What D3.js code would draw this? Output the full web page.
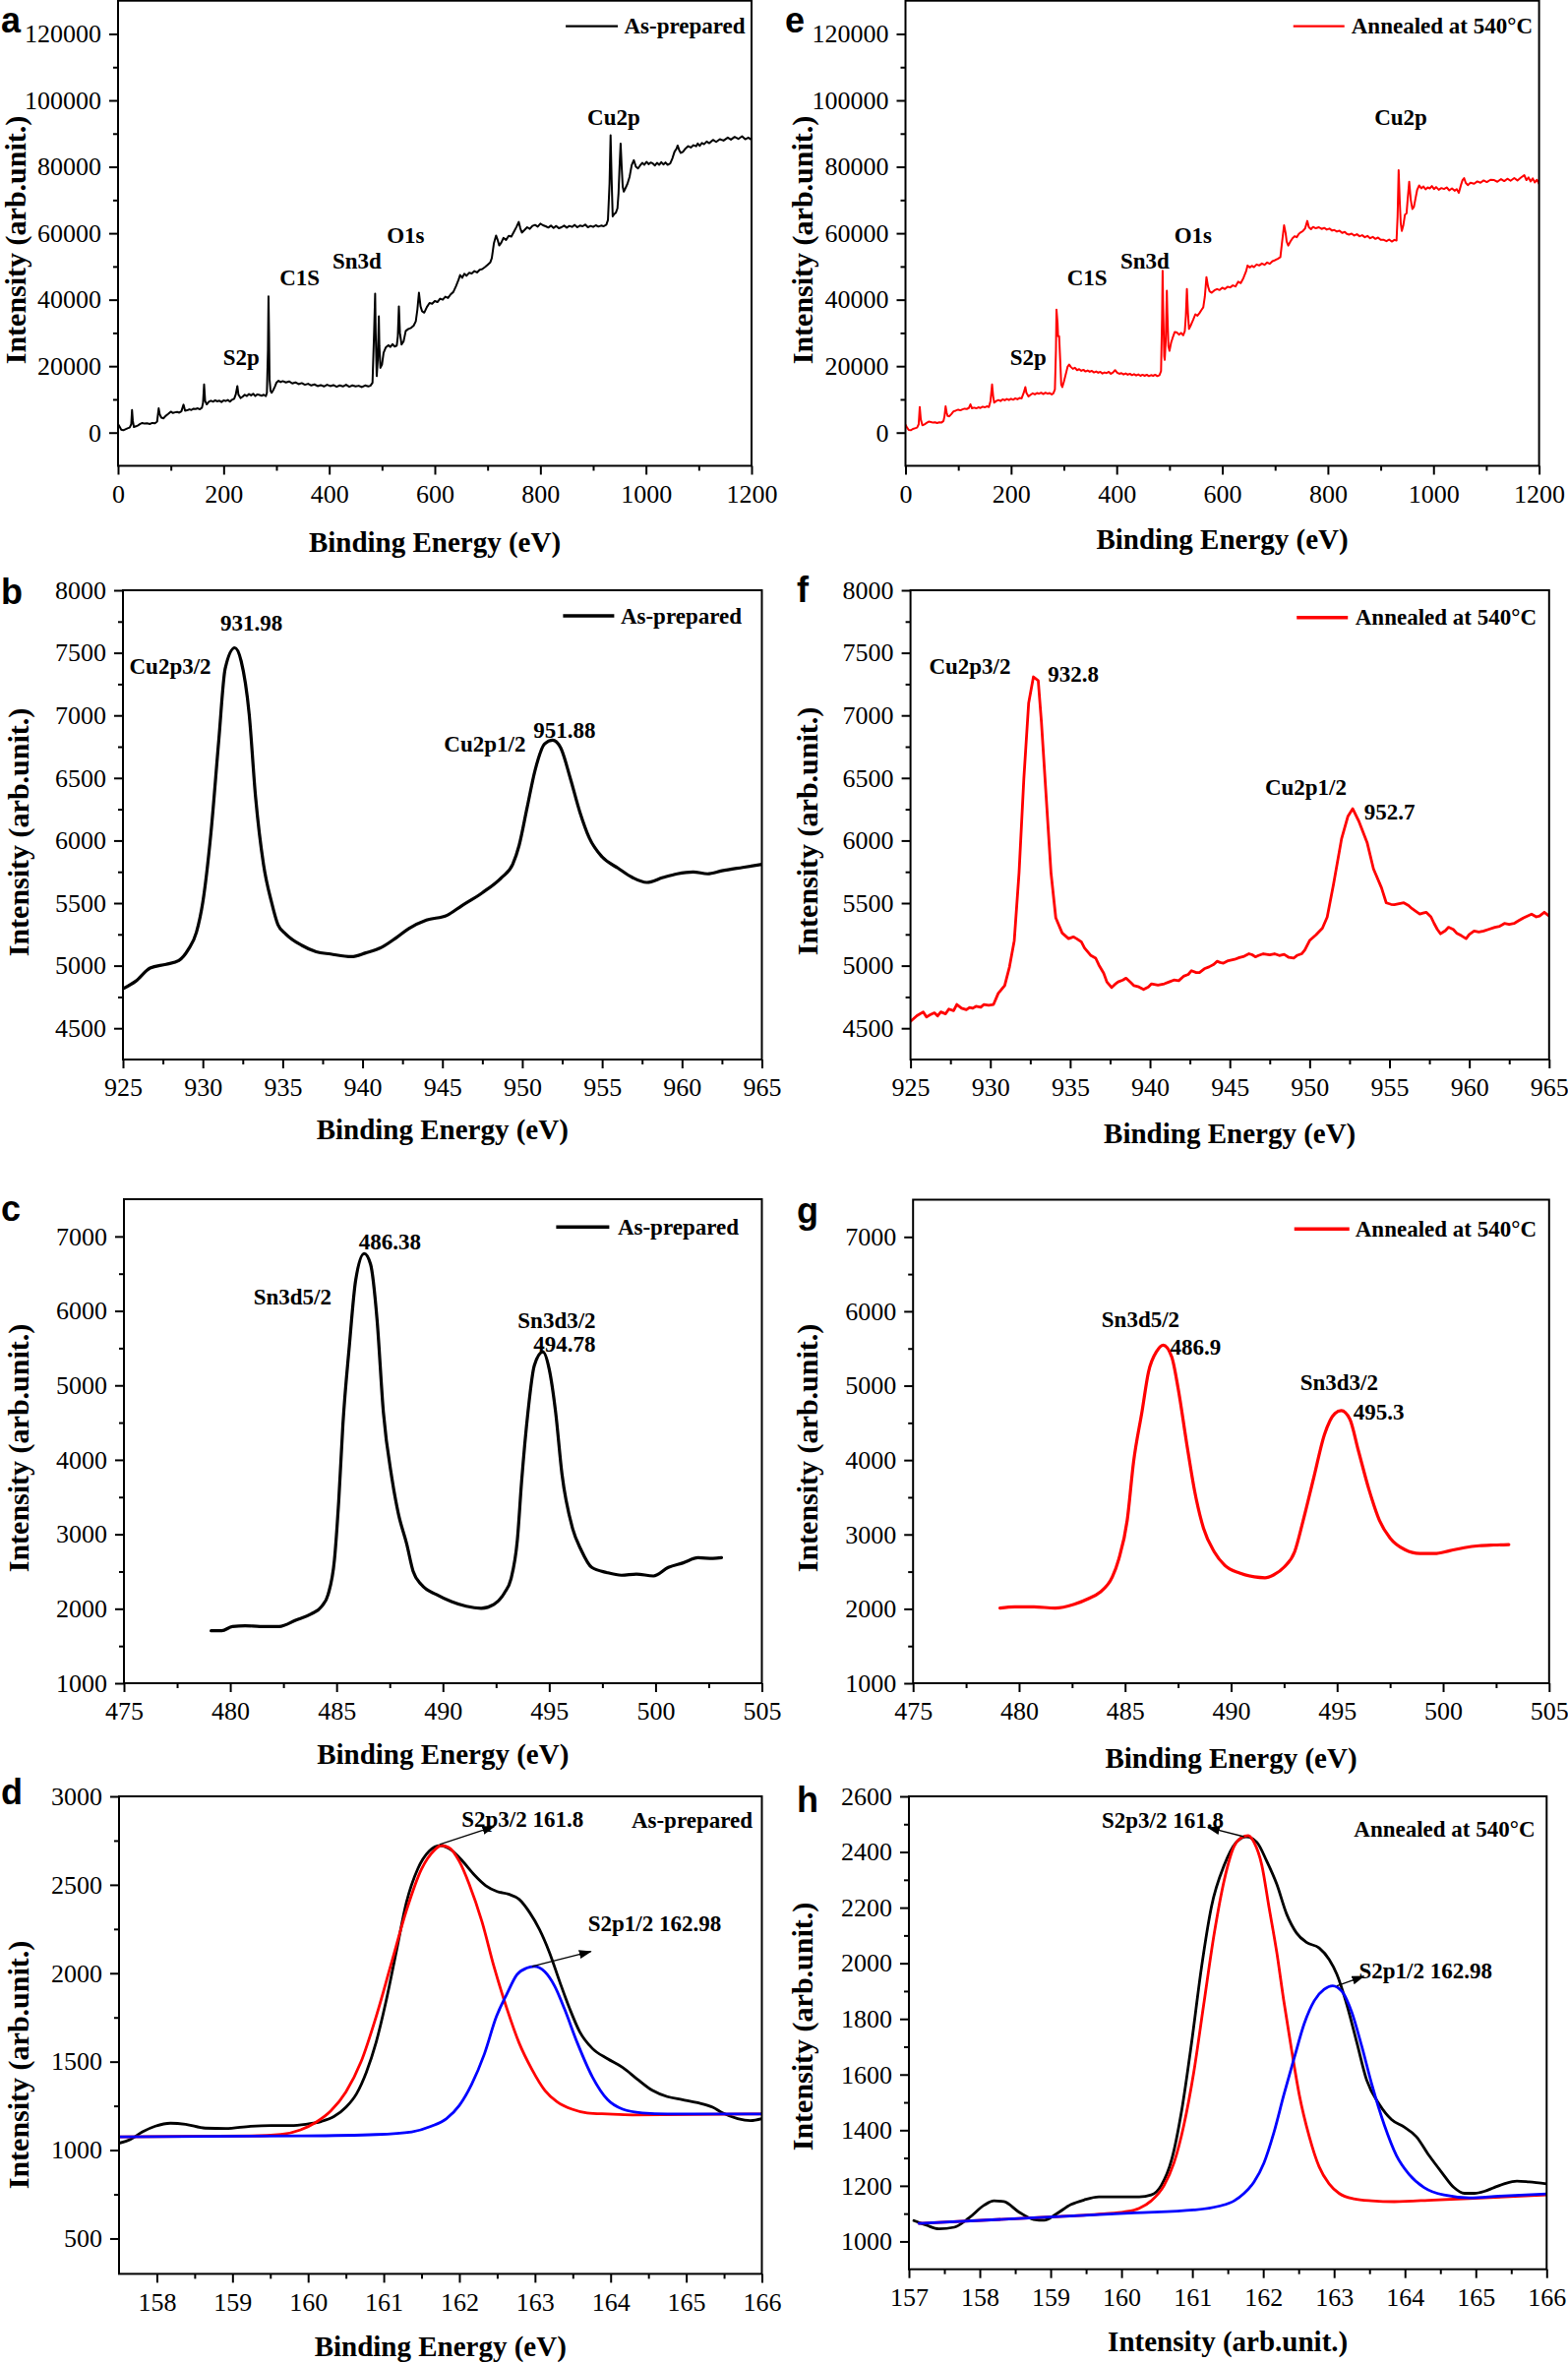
<!DOCTYPE html>
<html><head><meta charset="utf-8">
<script src="https://cdnjs.cloudflare.com/ajax/libs/d3/7.8.5/d3.min.js"></script>
<style>body{margin:0;background:#fff}</style>
</head><body>
<svg id="fig" width="1594" height="2402" xmlns="http://www.w3.org/2000/svg"></svg>
<script>
// ---------------- DATA ----------------
const surveyAsPrepared = [[0,2600],[3,1800],[6,900],[10,700],[14,1000],[18,1300],[22,1500],[25,2500],[26.5,6800],[28,3500],[30,1700],[34,1900],[38,2200],[42,2600],[46,2900],[50,2700],[55,2800],[60,2600],[65,2900],[70,2800],[74,3300],[77,7300],[79,5500],[82,4500],[86,4300],[90,5000],[95,5600],[100,6300],[104,5900],[108,6100],[112,6200],[116,6000],[120,6400],[124,8400],[127,6600],[131,6700],[135,7000],[139,6800],[143,7200],[147,7100],[151,7300],[155,7000],[159,7500],[161,9000],[163,14500],[165,9500],[168,8500],[172,9300],[176,9600],[180,9300],[184,9700],[188,9400],[192,9600],[196,9200],[200,9700],[204,9500],[208,9800],[212,9300],[216,9900],[220,10200],[223,11500],[226,14000],[228,11500],[232,10400],[236,10800],[240,11400],[244,11000],[248,11600],[252,11200],[256,11700],[260,11000],[264,11500],[268,11300],[272,11100],[276,11400],[280,11000],[282,12000],[284,25000],[285,41000],[286,30000],[287,16000],[289,12500],[291,12000],[294,12800],[297,13800],[300,15000],[304,15600],[308,15200],[312,15500],[318,15100],[324,15400],[330,14800],[336,15100],[342,14600],[348,14900],[354,14400],[360,14700],[366,14200],[372,14500],[378,14000],[384,14300],[390,13900],[396,14400],[402,14000],[408,14300],[414,13800],[420,14200],[426,13900],[432,14400],[438,13800],[444,14200],[450,13900],[456,14100],[462,13700],[468,14200],[474,13900],[478,14100],[482,15000],[485,30000],[487,41800],[488,30000],[490,17000],[492,22000],[494,35000],[495,26000],[497,19500],[500,20500],[503,24000],[507,25600],[512,26300],[516,25800],[520,26600],[524,25900],[528,26200],[530,29000],[532,38000],[534,30000],[537,26500],[541,27500],[545,30600],[550,31200],[555,31500],[560,32200],[564,33500],[567,37000],[570,42100],[573,38000],[576,36500],[580,36100],[585,37800],[590,39000],[595,38800],[600,39600],[605,39300],[610,40300],[615,40000],[620,40900],[625,40500],[630,41600],[635,42300],[640,44000],[645,46000],[648,47400],[652,46600],[656,47800],[660,47200],[665,48100],[670,47900],[675,48600],[680,48200],[685,49000],[690,49200],[695,49800],[700,50500],[705,51200],[708,52500],[712,57000],[716,59300],[719,58000],[722,56300],[726,57200],[730,58600],[735,58000],[740,59200],[745,59000],[750,60500],[755,62000],[759,63400],[762,61500],[765,60200],[770,61000],[775,61800],[780,61300],[785,62200],[790,62500],[795,62000],[800,62900],[805,62400],[810,62100],[815,61700],[820,62300],[825,61600],[830,62200],[835,61500],[840,61800],[845,62300],[850,61700],[855,62200],[860,61900],[865,62500],[870,61800],[875,62300],[880,62100],[885,62600],[890,61800],[895,62200],[900,61900],[905,62400],[910,62000],[915,62300],[920,62100],[925,62600],[928,64000],[931,75000],[933,89500],[935,76000],[937,65100],[940,65800],[943,66200],[946,67500],[948,72000],[950,80000],[952,87000],[954,80000],[956,74000],[958,72500],[961,73500],[965,74900],[969,77000],[973,80500],[977,82000],[981,80000],[985,79500],[989,80400],[993,81200],[997,80600],[1001,81500],[1005,80800],[1009,81300],[1013,81000],[1017,80400],[1021,81200],[1025,80600],[1029,81400],[1033,80700],[1037,81300],[1041,80600],[1046,81000],[1050,82500],[1054,84500],[1058,85500],[1060,86400],[1063,85000],[1066,84200],[1070,84500],[1075,85500],[1080,86200],[1085,85800],[1090,86500],[1095,86200],[1098,87000],[1102,86300],[1106,87200],[1110,86800],[1115,87600],[1120,87100],[1127,88100],[1133,87500],[1140,88300],[1147,87900],[1155,88800],[1161,88200],[1168,89000],[1175,88400],[1182,89200],[1188,88300],[1194,88800],[1200,88100]];

const surveyAnnealed = [[0,2400],[3,1500],[6,800],[10,700],[14,1100],[18,1300],[22,1500],[25,2500],[27,7700],[29,4000],[32,2200],[36,2500],[40,2900],[44,3300],[48,3200],[52,3000],[56,3100],[60,2900],[64,3100],[68,3000],[72,3500],[74,5000],[76,7900],[78,6000],[80,5000],[83,4900],[87,5600],[91,6400],[95,6600],[100,6900],[104,6700],[108,7000],[112,7200],[116,7100],[120,7400],[123,8500],[126,7300],[130,7500],[134,7300],[138,7600],[142,7400],[146,7800],[150,7600],[154,7900],[158,7700],[161,9500],[164,14500],[166,11000],[168,9000],[172,9500],[176,9800],[180,9500],[184,10000],[188,9700],[192,10100],[196,9800],[200,10200],[204,9900],[208,10300],[212,10000],[216,10400],[220,10300],[224,12000],[227,13700],[229,12000],[233,10900],[237,11400],[241,11800],[245,11500],[249,11900],[253,11700],[257,12000],[261,11600],[265,12000],[269,11700],[273,11900],[277,11500],[280,11800],[283,13000],[285,25000],[286,37000],[288,33000],[289,29000],[291,29000],[293,22000],[295,14500],[297,13700],[300,15300],[304,17800],[307,19800],[310,20500],[313,19800],[317,19200],[321,19500],[325,18800],[329,19100],[333,18600],[337,18900],[341,18400],[345,18700],[349,18300],[353,18600],[357,18100],[361,18400],[365,18000],[369,18300],[373,17800],[377,18100],[381,17900],[385,18300],[389,17700],[393,18100],[397,18800],[401,18000],[405,17700],[409,17900],[413,17500],[417,17800],[421,17400],[425,17700],[429,17300],[433,17600],[437,17200],[441,17500],[445,17100],[449,17400],[453,17100],[457,17400],[461,17000],[465,17300],[469,17100],[473,17400],[477,17000],[481,17300],[484,18500],[486,35000],[487,48700],[488,38000],[490,23000],[491,21900],[493,28000],[495,42700],[496,36000],[498,26000],[500,24600],[503,27000],[507,29000],[510,30300],[514,30100],[518,29500],[522,30000],[526,29300],[529,30500],[531,35000],[533,43200],[535,36000],[537,31200],[541,32500],[545,34000],[549,35600],[553,35200],[557,36000],[561,37000],[564,37700],[567,41000],[570,46800],[573,44000],[576,42500],[580,42100],[585,42800],[590,43200],[595,42900],[600,43600],[605,43200],[610,43900],[615,43700],[620,44300],[625,44000],[630,45400],[635,45000],[640,46500],[645,48500],[648,50300],[652,49700],[656,50200],[660,49800],[665,50600],[670,50300],[675,50900],[680,50500],[685,51200],[690,50800],[695,51600],[700,51900],[705,52300],[710,52800],[713,57000],[717,62400],[720,60000],[722,57500],[725,56300],[729,57500],[733,58500],[737,59100],[741,58800],[745,59800],[749,60300],[753,60700],[757,61500],[761,63700],[764,61800],[768,61200],[772,61900],[777,61500],[783,61800],[788,61300],[793,61600],[798,61100],[803,61400],[808,60800],[812,61000],[817,60500],[822,60800],[827,60100],[832,60400],[836,59800],[840,59600],[845,59900],[850,59300],[855,59700],[860,59100],[865,59400],[870,58800],[875,59200],[880,58500],[885,58900],[890,58300],[895,58700],[900,58000],[906,58000],[911,57600],[916,58100],[921,57500],[926,58000],[930,57800],[932,65000],[934,79000],[936,70000],[938,63000],[940,60700],[943,62500],[946,65600],[949,66000],[951,70000],[954,75500],[957,70000],[960,67300],[963,68000],[966,70500],[969,73000],[973,74400],[977,73500],[981,74100],[985,73200],[989,73800],[993,73500],[997,74200],[1001,73300],[1005,73900],[1010,73100],[1015,73600],[1020,73300],[1025,73800],[1030,72900],[1035,73500],[1040,72800],[1044,73300],[1048,72200],[1052,74500],[1055,76000],[1058,76600],[1061,75200],[1065,74500],[1070,75200],[1077,74900],[1083,75600],[1089,75200],[1095,75900],[1101,75400],[1108,76100],[1115,76000],[1121,75500],[1128,76300],[1134,75700],[1140,76400],[1146,75800],[1153,76600],[1159,75900],[1165,76700],[1172,77500],[1176,76000],[1180,76800],[1184,75600],[1188,76500],[1192,75300],[1196,76100],[1200,74900]];

const cu2pAsPrepared = [[925,4816],[925.8,4876],[926.7,4981],[927.7,5011],[928.5,5042],[929.1,5132],[929.6,5267],[930.0,5508],[930.5,6050],[931.0,6802],[931.4,7374],[932.0,7540],[932.4,7434],[932.9,7013],[933.3,6351],[933.8,5809],[934.3,5508],[934.7,5328],[935.2,5252],[936.2,5162],[937.1,5111],[938.0,5093],[939.3,5072],[940.2,5102],[941.2,5147],[942.1,5222],[942.9,5297],[944.0,5364],[945.3,5403],[946.2,5478],[947.5,5583],[948.7,5704],[949.4,5809],[949.8,5960],[950.3,6261],[950.8,6561],[951.4,6772],[951.9,6802],[952.4,6742],[953.0,6501],[953.6,6230],[954.2,6020],[955.0,5869],[956.0,5779],[956.9,5704],[957.8,5665],[958.8,5704],[959.7,5734],[960.7,5749],[961.6,5734],[962.5,5758],[963.8,5785],[965,5809]];

const cu2pAnnealed = [[925,4554],[925.4,4600],[925.8,4630],[926.0,4590],[926.2,4605],[926.5,4623],[926.7,4598],[926.9,4630],[927.2,4615],[927.4,4653],[927.7,4640],[927.9,4690],[928.2,4660],[928.5,4648],[928.7,4666],[928.9,4660],[929.1,4675],[929.4,4668],[929.6,4690],[929.9,4684],[930.2,4690],[930.5,4780],[930.9,4840],[931.2,4990],[931.5,5200],[931.8,5743],[932.1,6495],[932.4,7097],[932.7,7308],[933.0,7278],[933.2,6947],[933.5,6345],[933.8,5743],[934.1,5382],[934.5,5261],[934.9,5216],[935.2,5230],[935.4,5216],[935.7,5190],[935.9,5141],[936.3,5081],[936.6,5060],[936.8,5005],[937.1,4940],[937.3,4870],[937.6,4825],[937.8,4850],[938.0,4870],[938.3,4885],[938.5,4900],[938.8,4865],[939.0,4840],[939.3,4830],[939.6,4810],[939.9,4830],[940.1,4855],[940.5,4845],[940.9,4855],[941.2,4870],[941.5,4885],[941.8,4880],[942.1,4915],[942.4,4930],[942.6,4960],[942.9,4945],[943.1,4945],[943.4,4975],[943.7,4990],[944.0,5010],[944.2,5035],[944.4,5025],[944.6,5020],[944.9,5040],[945.3,5050],[945.6,5065],[945.9,5075],[946.2,5095],[946.4,5087],[946.6,5070],[946.8,5081],[947.1,5095],[947.5,5087],[947.8,5095],[948.1,5081],[948.4,5090],[948.7,5066],[949.0,5060],[949.2,5081],[949.5,5095],[949.7,5126],[950.0,5201],[950.4,5246],[950.8,5300],[951.1,5388],[951.5,5653],[952.0,6014],[952.4,6194],[952.7,6254],[953.1,6149],[953.6,5984],[954.0,5773],[954.5,5623],[954.8,5502],[955.1,5490],[955.3,5487],[955.6,5495],[955.9,5502],[956.2,5480],[956.4,5457],[956.7,5430],[956.9,5412],[957.1,5420],[957.3,5427],[957.6,5390],[957.8,5337],[958.0,5290],[958.2,5255],[958.5,5280],[958.7,5307],[959.0,5290],[959.2,5261],[959.5,5240],[959.8,5216],[960.0,5250],[960.3,5277],[960.6,5270],[960.9,5277],[961.2,5290],[961.6,5307],[961.9,5315],[962.2,5337],[962.5,5330],[962.8,5337],[963.1,5360],[963.4,5382],[963.7,5400],[963.9,5412],[964.2,5390],[964.4,5397],[964.7,5427],[965.0,5397]];

const sn3dAsPrepared = [[479.1,1704],[479.6,1704],[480.1,1762],[480.7,1772],[481.4,1762],[482.3,1762],[483.1,1850],[483.8,1929],[484.3,2033],[484.6,2190],[484.9,2659],[485.1,3442],[485.3,4485],[485.6,5529],[485.9,6416],[486.3,6770],[486.6,6624],[486.9,5894],[487.2,4642],[487.6,3755],[487.9,3285],[488.3,2868],[488.6,2503],[489.0,2320],[489.7,2190],[490.4,2096],[491.1,2033],[491.8,2007],[492.4,2059],[492.9,2216],[493.2,2398],[493.5,2920],[493.7,3703],[494.0,4642],[494.3,5268],[494.7,5450],[495.0,5216],[495.3,4642],[495.6,3807],[496.1,3076],[496.5,2790],[497.0,2555],[497.7,2487],[498.4,2450],[499.1,2466],[499.9,2440],[500.6,2555],[501.3,2617],[502.0,2685],[502.7,2675],[503.1,2685]];

const sn3dAnnealed = [[479.1,2010],[479.8,2026],[480.7,2026],[481.7,2010],[482.6,2062],[483.3,2141],[483.8,2220],[484.4,2429],[484.7,2665],[485.1,3188],[485.4,3974],[485.8,4654],[486.1,5178],[486.5,5466],[486.8,5544],[487.2,5387],[487.5,4968],[487.9,4235],[488.3,3555],[488.7,3084],[489.2,2769],[489.7,2586],[490.4,2481],[491.1,2429],[491.6,2418],[492.0,2455],[492.5,2560],[493.0,2769],[493.4,3188],[493.9,3764],[494.4,4340],[494.9,4628],[495.2,4665],[495.6,4550],[496.0,4131],[496.5,3607],[497.0,3188],[497.5,2952],[498.2,2795],[498.9,2743],[499.6,2743],[500.3,2780],[501.0,2822],[501.7,2848],[502.4,2858],[503.1,2864]];

const s2pAsPrepared = [[157.5,1039],[157.65,1060],[157.81,1103],[157.98,1135],[158.18,1152],[158.38,1146],[158.64,1124],[158.91,1122],[159.24,1135],[159.51,1139],[159.77,1139],[159.97,1146],[160.17,1161],[160.34,1189],[160.50,1242],[160.64,1318],[160.77,1440],[160.90,1610],[161.03,1840],[161.17,2130],[161.30,2400],[161.45,2590],[161.60,2690],[161.75,2722],[161.90,2695],[162.05,2630],[162.20,2555],[162.35,2495],[162.50,2462],[162.65,2447],[162.79,2418],[162.93,2343],[163.06,2247],[163.19,2119],[163.33,1948],[163.46,1798],[163.59,1670],[163.76,1574],[163.96,1516],[164.16,1467],[164.35,1402],[164.55,1338],[164.75,1302],[164.95,1285],[165.15,1268],[165.35,1242],[165.48,1210],[165.68,1178],[165.85,1167],[166.0,1178]];
const s2p32AsPrepared = [[157.5,1075],[159.24,1080],[159.64,1088],[159.9,1114],[160.1,1156],[160.3,1221],[160.5,1328],[160.7,1499],[160.9,1755],[161.1,2055],[161.3,2354],[161.5,2589],[161.67,2696],[161.76,2722],[161.86,2711],[162.0,2632],[162.13,2504],[162.3,2290],[162.46,2034],[162.63,1798],[162.79,1606],[162.96,1456],[163.13,1338],[163.29,1274],[163.49,1231],[163.69,1210],[163.96,1204],[164.29,1199],[166,1204]];
const s2p12AsPrepared = [[157.5,1075],[159.9,1080],[160.9,1088],[161.37,1103],[161.63,1135],[161.83,1178],[162.0,1253],[162.16,1370],[162.33,1542],[162.49,1755],[162.63,1884],[162.76,1991],[162.89,2029],[162.99,2038],[163.13,2008],[163.26,1927],[163.39,1798],[163.56,1606],[163.76,1413],[163.96,1285],[164.16,1231],[164.42,1210],[164.75,1204],[166,1204]];

const s2pAnnealed = [[157.07,1075],[157.25,1058],[157.42,1045],[157.64,1051],[157.85,1085],[158.06,1130],[158.2,1146],[158.34,1143],[158.55,1106],[158.76,1079],[158.91,1076],[159.08,1099],[159.29,1133],[159.47,1149],[159.68,1160],[159.96,1160],[160.25,1160],[160.42,1167],[160.56,1201],[160.71,1296],[160.85,1472],[160.99,1716],[161.13,1987],[161.27,2204],[161.45,2353],[161.62,2435],[161.76,2455],[161.91,2435],[162.05,2367],[162.19,2285],[162.33,2177],[162.47,2109],[162.61,2075],[162.79,2055],[162.93,2014],[163.04,1960],[163.18,1851],[163.32,1716],[163.46,1580],[163.64,1492],[163.81,1438],[163.99,1411],[164.16,1377],[164.34,1309],[164.52,1248],[164.69,1194],[164.84,1173],[164.98,1173],[165.12,1180],[165.26,1194],[165.4,1207],[165.58,1217],[165.75,1214],[166,1207]];
const s2p32Annealed = [[157.14,1065],[158.76,1085],[159.75,1099],[160.04,1106],[160.25,1119],[160.42,1146],[160.6,1201],[160.74,1282],[160.88,1418],[161.02,1608],[161.16,1851],[161.31,2109],[161.45,2299],[161.59,2421],[161.69,2451],[161.79,2459],[161.87,2435],[161.98,2353],[162.08,2204],[162.19,2041],[162.29,1865],[162.4,1689],[162.51,1526],[162.65,1377],[162.79,1268],[162.93,1207],[163.07,1173],[163.28,1153],[163.53,1146],[163.85,1143],[164.41,1149],[165.12,1157],[166,1167]];
const s2p12Annealed = [[157.14,1065],[158.76,1085],[160.18,1103],[161.02,1113],[161.38,1127],[161.59,1146],[161.73,1173],[161.87,1214],[162.01,1282],[162.15,1391],[162.29,1526],[162.44,1662],[162.58,1784],[162.72,1865],[162.86,1906],[162.98,1919],[163.11,1899],[163.25,1824],[163.39,1702],[163.53,1567],[163.71,1418],[163.88,1309],[164.06,1241],[164.27,1194],[164.55,1167],[164.91,1157],[165.33,1163],[166,1171]];

// tick values
const surveyTicksX = [0,200,400,600,800,1000,1200];
const surveyMinorX = [100,300,500,700,900,1100];
const surveyTicksY = [0,20000,40000,60000,80000,100000,120000];
const surveyMinorY = [10000,30000,50000,70000,90000,110000];
const cuTicksX = [925,930,935,940,945,950,955,960,965];
const cuMinorX = [927.5,932.5,937.5,942.5,947.5,952.5,957.5,962.5];
const cuTicksY = [4500,5000,5500,6000,6500,7000,7500,8000];
const cuMinorY = [4750,5250,5750,6250,6750,7250,7750];
const snTicksX = [475,480,485,490,495,500,505];
const snMinorX = [477.5,482.5,487.5,492.5,497.5,502.5];
const snTicksY = [1000,2000,3000,4000,5000,6000,7000];
const snMinorY = [1500,2500,3500,4500,5500,6500];
const sTicksXd = [158,159,160,161,162,163,164,165,166];
const sMinorXd = [158.5,159.5,160.5,161.5,162.5,163.5,164.5,165.5];
const sTicksYd = [500,1000,1500,2000,2500,3000];
const sMinorYd = [750,1250,1750,2250,2750];
const sTicksXh = [157,158,159,160,161,162,163,164,165,166];
const sMinorXh = [157.5,158.5,159.5,160.5,161.5,162.5,163.5,164.5,165.5];
const sTicksYh = [1000,1200,1400,1600,1800,2000,2200,2400,2600];
const sMinorYh = [1100,1300,1500,1700,1900,2100,2300,2500];

// ---------------- DRAWING ----------------
const SERIF = '"Liberation Serif","Times New Roman",Times,serif';
const SANS = '"Liberation Sans",Arial,Helvetica,sans-serif';
const RED = '#ff0000', BLUE = '#0000ff', BLACK = '#000000';
const BE = 'Binding Energy (eV)', INT = 'Intensity (arb.unit.)';
const AS = 'As-prepared', AN = 'Annealed at 540\u00B0C';

const svg = d3.select('#fig');
const defs = svg.append('defs');
defs.append('marker').attr('id','arrowhead').attr('markerUnits','userSpaceOnUse')
  .attr('markerWidth',13).attr('markerHeight',9).attr('refX',12).attr('refY',4.5).attr('orient','auto')
  .append('path').attr('d','M0,0 L13,4.5 L0,9 Z').attr('fill','#000');

const panels = [
 {id:'a', letter:{x:1,y:33}, xr:[120,764], yr:[473.5,0.7], xd:[0,1200], yd:[-10000,130000],
  tx:surveyTicksX, mx:surveyMinorX, ty:surveyTicksY, my:surveyMinorY,
  series:[{data:surveyAsPrepared,color:BLACK,w:2,curve:d3.curveLinear}],
  legend:{text:AS,color:BLACK,lw:2.2,ro:6.4,yc:26.6,len:53,gap:6.4},
  labels:[{t:'Cu2p',x:889,y:94690},{t:'O1s',x:509,y:59200},{t:'Sn3d',x:406,y:51630},{t:'C1S',x:306,y:46490},{t:'S2p',x:199,y:22530}],
  xTitle:{t:BE,yc:551}, yTitle:{xc:15,yc:244}},
 {id:'e', letter:{x:798,y:33}, xr:[920.5,1564.6], yr:[473.5,0.7], xd:[0,1200], yd:[-10000,130000],
  tx:surveyTicksX, mx:surveyMinorX, ty:surveyTicksY, my:surveyMinorY,
  series:[{data:surveyAnnealed,color:RED,w:2,curve:d3.curveLinear}],
  legend:{text:AN,color:RED,lw:2.2,ro:6.6,yc:26.6,len:52,gap:7},
  labels:[{t:'Cu2p',x:888,y:94690},{t:'O1s',x:509,y:59200},{t:'Sn3d',x:407,y:51630},{t:'C1S',x:306,y:46490},{t:'S2p',x:198,y:22530}],
  xTitle:{t:BE,yc:548}, yTitle:{xc:815,yc:244}},
 {id:'b', letter:{x:1,y:614}, xr:[125,774.5], yr:[1077,600], xd:[925,965], yd:[4250,8000],
  tx:cuTicksX, mx:cuMinorX, ty:cuTicksY, my:cuMinorY,
  series:[{data:cu2pAsPrepared,color:BLACK,w:3.2,curve:d3.curveMonotoneX}],
  legend:{text:AS,color:BLACK,lw:3.6,ro:20.5,yc:626,len:52,gap:6.5},
  labels:[{t:'931.98',x:931.1,y:7736},{t:'Cu2p3/2',x:925.4,y:7389},{t:'Cu2p1/2',x:945.1,y:6773},{t:'951.88',x:950.7,y:6878}],
  xTitle:{t:BE,yc:1148}, yTitle:{xc:18,yc:846}},
 {id:'f', letter:{x:810,y:612}, xr:[925.6,1574.8], yr:[1077,600], xd:[925,965], yd:[4250,8000],
  tx:cuTicksX, mx:cuMinorX, ty:cuTicksY, my:cuMinorY,
  series:[{data:cu2pAnnealed,color:RED,w:2.8,curve:d3.curveLinear}],
  legend:{text:AN,color:RED,lw:3.6,ro:12.8,yc:627.8,len:52,gap:7.5},
  labels:[{t:'Cu2p3/2',x:926.16,y:7389},{t:'932.8',x:933.61,y:7330},{t:'Cu2p1/2',x:947.2,y:6426},{t:'952.7',x:953.41,y:6230}],
  xTitle:{t:BE,yc:1152}, yTitle:{xc:820,yc:845}},
 {id:'c', letter:{x:1,y:1241}, xr:[126,774.5], yr:[1711,1219], xd:[475,505], yd:[1000,7500],
  tx:snTicksX, mx:snMinorX, ty:snTicksY, my:snMinorY,
  series:[{data:sn3dAsPrepared,color:BLACK,w:3.2,curve:d3.curveMonotoneX}],
  legend:{text:AS,color:BLACK,lw:3.6,ro:23.5,yc:1247.3,len:54,gap:8.5},
  labels:[{t:'486.38',x:486.05,y:6923},{t:'Sn3d5/2',x:481.09,y:6182},{t:'Sn3d3/2',x:493.52,y:5868},{t:'494.78',x:494.26,y:5554}],
  xTitle:{t:BE,yc:1783}, yTitle:{xc:18,yc:1472}},
 {id:'g', letter:{x:810,y:1243}, xr:[928.2,1574.8], yr:[1711,1219.5], xd:[475,505], yd:[1000,7500],
  tx:snTicksX, mx:snMinorX, ty:snTicksY, my:snMinorY,
  series:[{data:sn3dAnnealed,color:RED,w:3.2,curve:d3.curveMonotoneX}],
  legend:{text:AN,color:RED,lw:3.6,ro:12.8,yc:1249.3,len:56,gap:6},
  labels:[{t:'Sn3d5/2',x:483.89,y:5885},{t:'486.9',x:487.12,y:5518},{t:'Sn3d3/2',x:493.26,y:5046},{t:'495.3',x:495.76,y:4642}],
  xTitle:{t:BE,yc:1787}, yTitle:{xc:820,yc:1472}},
 {id:'d', letter:{x:1,y:1834}, xr:[121,774.5], yr:[2311.4,1826], xd:[157.5,166], yd:[300,3000],
  tx:sTicksXd, mx:sMinorXd, ty:sTicksYd, my:sMinorYd,
  series:[{data:s2pAsPrepared,color:BLACK,w:2.8,curve:d3.curveMonotoneX},
          {data:s2p32AsPrepared,color:RED,w:2.8,curve:d3.curveMonotoneX},
          {data:s2p12AsPrepared,color:BLUE,w:2.8,curve:d3.curveMonotoneX}],
  legend:{text:AS,color:null,ro:9.5,yc:1850},
  labels:[{t:'S2p3/2 161.8',x:162.03,y:2867},{t:'S2p1/2 162.98',x:163.70,y:2280}],
  arrows:[[161.74,2728,162.46,2829],[162.96,2038,163.74,2123]],
  xTitle:{t:BE,yc:2385}, yTitle:{xc:18,yc:2099}},
 {id:'h', letter:{x:810,y:1842}, xr:[924,1572.3], yr:[2306.7,1826], xd:[157,166], yd:[900,2600],
  tx:sTicksXh, mx:sMinorXh, ty:sTicksYh, my:sMinorYh,
  series:[{data:s2pAnnealed,color:BLACK,w:2.8,curve:d3.curveMonotoneX},
          {data:s2p32Annealed,color:RED,w:2.8,curve:d3.curveMonotoneX},
          {data:s2p12Annealed,color:BLUE,w:2.8,curve:d3.curveMonotoneX}],
  legend:{text:AN,color:null,ro:11.7,yc:1859.5},
  labels:[{t:'S2p3/2 161.8',x:159.72,y:2515},{t:'S2p1/2 162.98',x:163.35,y:1973}],
  arrows:[[161.73,2455,161.22,2488],[163.04,1919,163.42,1953]],
  xTitle:{t:INT,yc:2380}, yTitle:{xc:815,yc:2060}}
];

function styleAxis(g){
  g.select('.domain').remove();
  g.selectAll('line').attr('stroke','#000').attr('stroke-width',2);
  g.selectAll('text').attr('font-family',SERIF).attr('font-size',26).attr('fill','#000');
}

panels.forEach(p => {
  const g = svg.append('g').attr('id','panel-'+p.id);
  const x = d3.scaleLinear().domain(p.xd).range(p.xr);
  const y = d3.scaleLinear().domain(p.yd).range(p.yr);
  const L = p.xr[0], R = p.xr[1], B = p.yr[0], T = p.yr[1];

  defs.append('clipPath').attr('id','clip-'+p.id).append('rect')
    .attr('x',L).attr('y',T).attr('width',R-L).attr('height',B-T);

  p.series.forEach(s => {
    g.append('path').datum(s.data)
      .attr('clip-path','url(#clip-'+p.id+')')
      .attr('fill','none').attr('stroke',s.color).attr('stroke-width',s.w)
      .attr('stroke-linejoin','round').attr('stroke-linecap','round')
      .attr('d', d3.line().x(d=>x(d[0])).y(d=>y(d[1])).curve(s.curve));
  });

  const gx = g.append('g').attr('transform',`translate(0,${B})`)
    .call(d3.axisBottom(x).tickValues(p.tx).tickSize(9).tickSizeOuter(0).tickPadding(10).tickFormat(d3.format('d')));
  styleAxis(gx);
  const gxm = g.append('g').attr('transform',`translate(0,${B})`)
    .call(d3.axisBottom(x).tickValues(p.mx).tickSize(5).tickSizeOuter(0).tickFormat(''));
  styleAxis(gxm);
  const gy = g.append('g').attr('transform',`translate(${L},0)`)
    .call(d3.axisLeft(y).tickValues(p.ty).tickSize(9).tickSizeOuter(0).tickPadding(8).tickFormat(d3.format('d')));
  styleAxis(gy);
  const gym = g.append('g').attr('transform',`translate(${L},0)`)
    .call(d3.axisLeft(y).tickValues(p.my).tickSize(5).tickSizeOuter(0).tickFormat(''));
  styleAxis(gym);

  g.append('rect').attr('x',L).attr('y',T).attr('width',R-L).attr('height',B-T)
    .attr('fill','none').attr('stroke','#000').attr('stroke-width',2);

  g.append('text').attr('x',(L+R)/2).attr('y',p.xTitle.yc).attr('text-anchor','middle')
    .attr('dominant-baseline','central').attr('font-family',SERIF).attr('font-weight','bold')
    .attr('font-size',29).text(p.xTitle.t);
  g.append('text').attr('transform',`translate(${p.yTitle.xc},${p.yTitle.yc}) rotate(-90)`)
    .attr('text-anchor','middle').attr('dominant-baseline','central').attr('font-family',SERIF)
    .attr('font-weight','bold').attr('font-size',30).text(INT);

  g.append('text').attr('x',p.letter.x).attr('y',p.letter.y).attr('font-family',SANS)
    .attr('font-weight','bold').attr('font-size',36).text(p.id);

  const lg = p.legend;
  const lt = g.append('text').attr('x',R-lg.ro).attr('y',lg.yc).attr('text-anchor','end')
    .attr('dominant-baseline','central').attr('font-family',SERIF).attr('font-weight','bold')
    .attr('font-size',23).text(lg.text);
  if (lg.color) {
    const w = lt.node().getComputedTextLength();
    const x2 = R - lg.ro - w - lg.gap;
    g.append('line').attr('x1',x2-lg.len).attr('x2',x2).attr('y1',lg.yc).attr('y2',lg.yc)
      .attr('stroke',lg.color).attr('stroke-width',lg.lw);
  }

  g.selectAll('text.lab').data(p.labels).join('text').attr('class','lab')
    .attr('x',d=>x(d.x)).attr('y',d=>y(d.y)).attr('dominant-baseline','central')
    .attr('font-family',SERIF).attr('font-weight','bold').attr('font-size',23).text(d=>d.t);

  (p.arrows||[]).forEach(a => {
    g.append('line').attr('x1',x(a[0])).attr('y1',y(a[1])).attr('x2',x(a[2])).attr('y2',y(a[3]))
      .attr('stroke','#000').attr('stroke-width',1.3).attr('marker-end','url(#arrowhead)');
  });
});
</script>
</body></html>
